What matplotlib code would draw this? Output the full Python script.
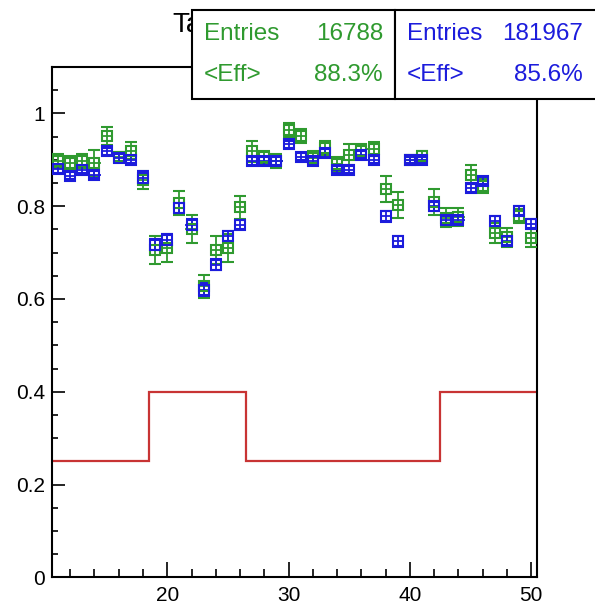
import matplotlib
matplotlib.use("Agg")
import matplotlib.pyplot as plt
from matplotlib.patches import Rectangle
from matplotlib.ticker import MultipleLocator

plt.rcParams['font.family'] = ['Liberation Sans', 'DejaVu Sans']

# bin centres
bins = list(range(11, 51))

# sample 1 (green, 16788 entries)
eff_green = [0.897, 0.893, 0.897, 0.893, 0.951, 0.907, 0.920, 0.856, 0.706, 0.710,
             0.807, 0.750, 0.627, 0.706, 0.710, 0.798, 0.918, 0.905, 0.897, 0.965,
             0.951, 0.904, 0.926, 0.890, 0.911, 0.918, 0.924, 0.836, 0.803, 0.900,
             0.909, 0.810, 0.775, 0.777, 0.868, 0.843, 0.742, 0.733, 0.778, 0.731]
err_green = [0.015, 0.015, 0.015, 0.028, 0.020, 0.010, 0.018, 0.020, 0.030, 0.030,
             0.025, 0.030, 0.025, 0.030, 0.030, 0.025, 0.022, 0.015, 0.015, 0.015,
             0.015, 0.015, 0.015, 0.015, 0.022, 0.015, 0.015, 0.028, 0.028, 0.010,
             0.010, 0.028, 0.020, 0.020, 0.020, 0.015, 0.022, 0.020, 0.015, 0.020]

# sample 2 (blue, 181967 entries)
eff_blue = [0.880, 0.866, 0.879, 0.868, 0.918, 0.904, 0.900, 0.861, 0.717, 0.728,
            0.796, 0.760, 0.620, 0.674, 0.736, 0.760, 0.897, 0.897, 0.897, 0.933,
            0.907, 0.897, 0.915, 0.879, 0.879, 0.911, 0.900, 0.778, 0.724, 0.900,
            0.900, 0.800, 0.771, 0.771, 0.839, 0.855, 0.768, 0.726, 0.790, 0.762]
err_blue = [0.008, 0.008, 0.008, 0.008, 0.008, 0.008, 0.008, 0.014, 0.012, 0.012,
            0.010, 0.012, 0.014, 0.012, 0.010, 0.010, 0.008, 0.008, 0.008, 0.008,
            0.008, 0.008, 0.008, 0.008, 0.008, 0.008, 0.008, 0.012, 0.012, 0.006,
            0.006, 0.010, 0.008, 0.008, 0.008, 0.008, 0.010, 0.010, 0.010, 0.010]

# red threshold histogram (bin edges and contents)
thr_edges = [10.5, 18.5, 26.5, 42.5, 50.5]
thr_vals = [0.25, 0.40, 0.25, 0.40]

stats = [
    ("Entries", "16788", "<Eff>", "88.3%"),
    ("Entries", "181967", "<Eff>", "85.6%"),
]

GREEN = '#2f9a2f'
BLUE = '#1c1cdc'
RED = '#c83434'

W, H = 595, 605
fig = plt.figure(figsize=(W / 100, H / 100), dpi=100)


def px(x, y):
    # pixel position (from top-left) -> figure fraction
    return x / W, 1 - y / H


ax = fig.add_axes([52 / W, 1 - 577.3 / H, (537.3 - 52) / W, (577.3 - 67) / H])

# threshold step line
ax.stairs(thr_vals, thr_edges, color=RED, lw=1.6, baseline=None, zorder=2)


def draw_eff(x, y, err, color):
    ax.errorbar(x, y, xerr=0.5, fmt='none', ecolor=color, elinewidth=1.3,
                capsize=0, zorder=3)
    ax.errorbar(x, y, yerr=err, fmt='s', color=color, mfc='none', mec=color,
                ms=7.5, mew=1.5, elinewidth=1.3, capsize=4, capthick=1.3,
                zorder=3)


draw_eff(bins, eff_green, err_green, GREEN)
draw_eff(bins, eff_blue, err_blue, BLUE)

ax.set_xlim(10.5, 50.5)
ax.set_ylim(0, 1.1)
ax.xaxis.set_major_locator(MultipleLocator(10))
ax.xaxis.set_minor_locator(MultipleLocator(2))
ax.yaxis.set_minor_locator(MultipleLocator(0.05))
ax.set_yticks([0, 0.2, 0.4, 0.6, 0.8, 1.0])
ax.set_yticklabels(['0', '0.2', '0.4', '0.6', '0.8', '1'])
ax.tick_params(which='both', direction='in', top=False, right=False,
               labelsize=15, width=1.2)
ax.tick_params(axis='x', which='major', length=11, pad=6)
ax.tick_params(axis='x', which='minor', length=5.5)
ax.tick_params(axis='y', which='major', length=9, pad=5)
ax.tick_params(axis='y', which='minor', length=4.5)
for sp in ax.spines.values():
    sp.set_linewidth(1.5)

# title, cut off by the stat boxes
fig.text(*px(172, 32), "Ta", fontsize=20, ha='left', va='baseline', zorder=1)

# stat boxes
box_cols = [GREEN, BLUE]
box_x = [(192, 395), (395, 620)]
for (x0, x1), col, (l1, v1, l2, v2) in zip(box_x, box_cols, stats):
    fig.add_artist(Rectangle(px(x0, 99), (x1 - x0) / W, 89 / H,
                             transform=fig.transFigure, facecolor='white',
                             edgecolor='black', lw=1.5, zorder=5))
    xr = min(x1, 595) - 12
    fig.text(*px(x0 + 12, 34), l1, color=col, fontsize=17.5, ha='left',
             va='center', zorder=6)
    fig.text(*px(xr, 34), v1, color=col, fontsize=17.5, ha='right',
             va='center', zorder=6)
    fig.text(*px(x0 + 12, 75), l2, color=col, fontsize=17.5, ha='left',
             va='center', zorder=6)
    fig.text(*px(xr, 75), v2, color=col, fontsize=17.5, ha='right',
             va='center', zorder=6)

fig.savefig("out.png", dpi=100)
